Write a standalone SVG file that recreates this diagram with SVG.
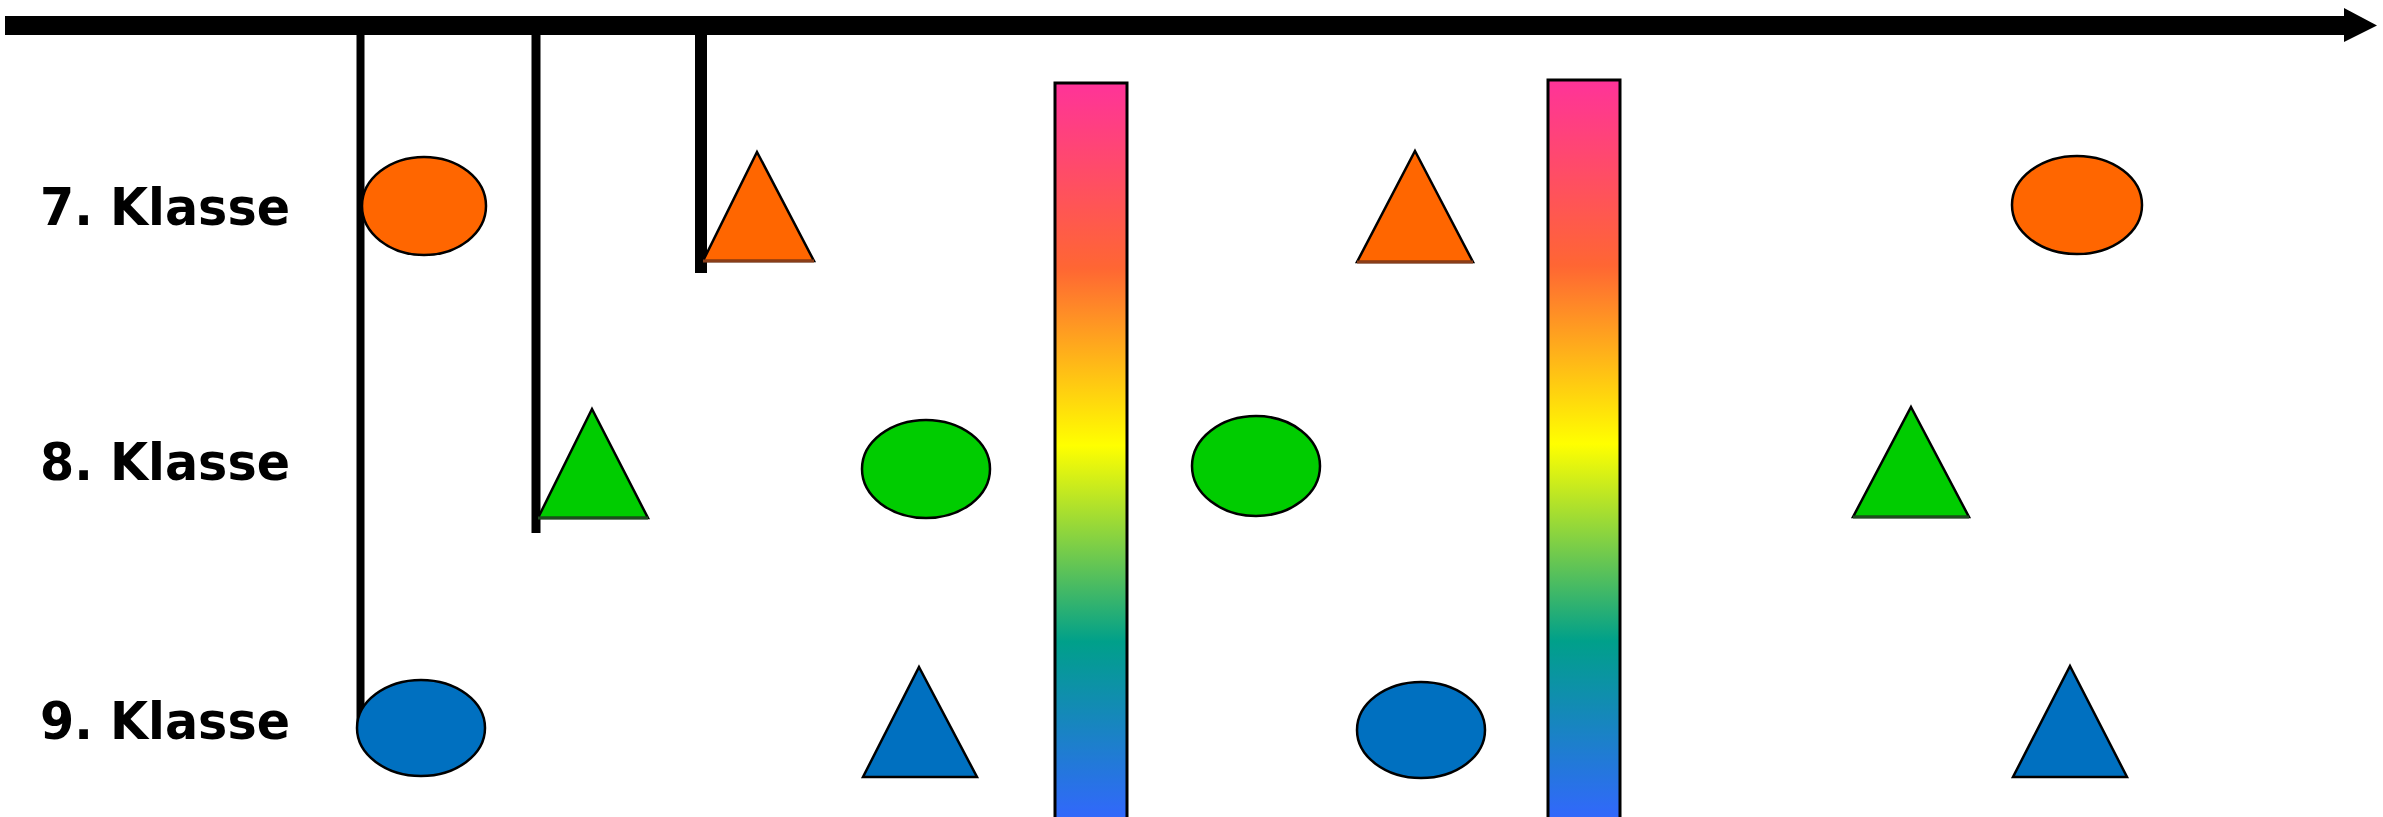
<svg xmlns="http://www.w3.org/2000/svg" width="2383" height="817" viewBox="0 0 2383 817">
  <defs>
    <linearGradient id="rainbow" x1="0" y1="0" x2="0" y2="1">
      <stop offset="0" stop-color="#ff3399"/>
      <stop offset="0.25" stop-color="#ff6633"/>
      <stop offset="0.49" stop-color="#ffff00"/>
      <stop offset="0.755" stop-color="#00a08a"/>
      <stop offset="1" stop-color="#3366ff"/>
    </linearGradient>
  </defs>
  <style>
    .lbl { font-family: "DejaVu Sans", "Liberation Sans", sans-serif; font-weight: bold; font-size: 51px; fill: #000; }
    .shape { stroke: #000; stroke-width: 2.5; }
    .o { fill: #ff6600; }
    .g { fill: #00cc00; }
    .b { fill: #0070c0; }
    .bar { fill: url(#rainbow); stroke: #000; stroke-width: 3; }
    .conn { stroke: #000; fill: none; }
  </style>
  <rect width="2383" height="817" fill="#ffffff"/>

  <g id="labels">
    <text class="lbl" x="40" y="225" textLength="250" lengthAdjust="spacingAndGlyphs">7. Klasse</text>
    <text class="lbl" x="40" y="480" textLength="250" lengthAdjust="spacingAndGlyphs">8. Klasse</text>
    <text class="lbl" x="40" y="739" textLength="250" lengthAdjust="spacingAndGlyphs">9. Klasse</text>
  </g>

  <g id="connectors">
    <line class="conn" x1="5" y1="25.5" x2="2350" y2="25.5" stroke-width="19"/>
    <polygon points="2344,8 2377,25.5 2344,42" fill="#000"/>
    <line class="conn" x1="360.5" y1="25" x2="360.5" y2="727" stroke-width="8"/>
    <line class="conn" x1="536" y1="25" x2="536" y2="533" stroke-width="9"/>
    <line class="conn" x1="701" y1="25" x2="701" y2="273" stroke-width="12"/>
  </g>

  <g id="bar1"><rect class="bar" x="1055" y="83" width="72" height="740"/></g>
  <g id="bar2"><rect class="bar" x="1548" y="80" width="72" height="743"/></g>

  <g id="k7-ellipse1"><ellipse class="shape o" cx="424" cy="206" rx="62" ry="49"/></g>
  <g id="k7-triangle2"><polygon class="shape o" points="757,152 814,261 703,261"/><line x1="703" y1="261" x2="814" y2="261" stroke="#8a3d18" stroke-width="3"/></g>
  <g id="k7-triangle3"><polygon class="shape o" points="1415,151 1473,262 1357,262"/><line x1="1357" y1="262" x2="1473" y2="262" stroke="#8a3d18" stroke-width="3"/></g>
  <g id="k7-ellipse4"><ellipse class="shape o" cx="2077" cy="205" rx="65" ry="49"/></g>

  <g id="k8-triangle1"><polygon class="shape g" points="592,409 648,518 538,518"/><line x1="538" y1="518" x2="648" y2="518" stroke="#1f4d1f" stroke-width="3"/></g>
  <g id="k8-ellipse2"><ellipse class="shape g" cx="926" cy="469" rx="64" ry="49"/></g>
  <g id="k8-ellipse3"><ellipse class="shape g" cx="1256" cy="466" rx="64" ry="50"/></g>
  <g id="k8-triangle4"><polygon class="shape g" points="1911,407 1969,517 1853,517"/><line x1="1853" y1="517" x2="1969" y2="517" stroke="#1f4d1f" stroke-width="3"/></g>

  <g id="k9-ellipse1"><ellipse class="shape b" cx="421" cy="728" rx="64" ry="48"/></g>
  <g id="k9-triangle2"><polygon class="shape b" points="919,667 977,777 863,777"/></g>
  <g id="k9-ellipse3"><ellipse class="shape b" cx="1421" cy="730" rx="64" ry="48"/></g>
  <g id="k9-triangle4"><polygon class="shape b" points="2070,666 2127,777 2013,777"/></g>
</svg>
